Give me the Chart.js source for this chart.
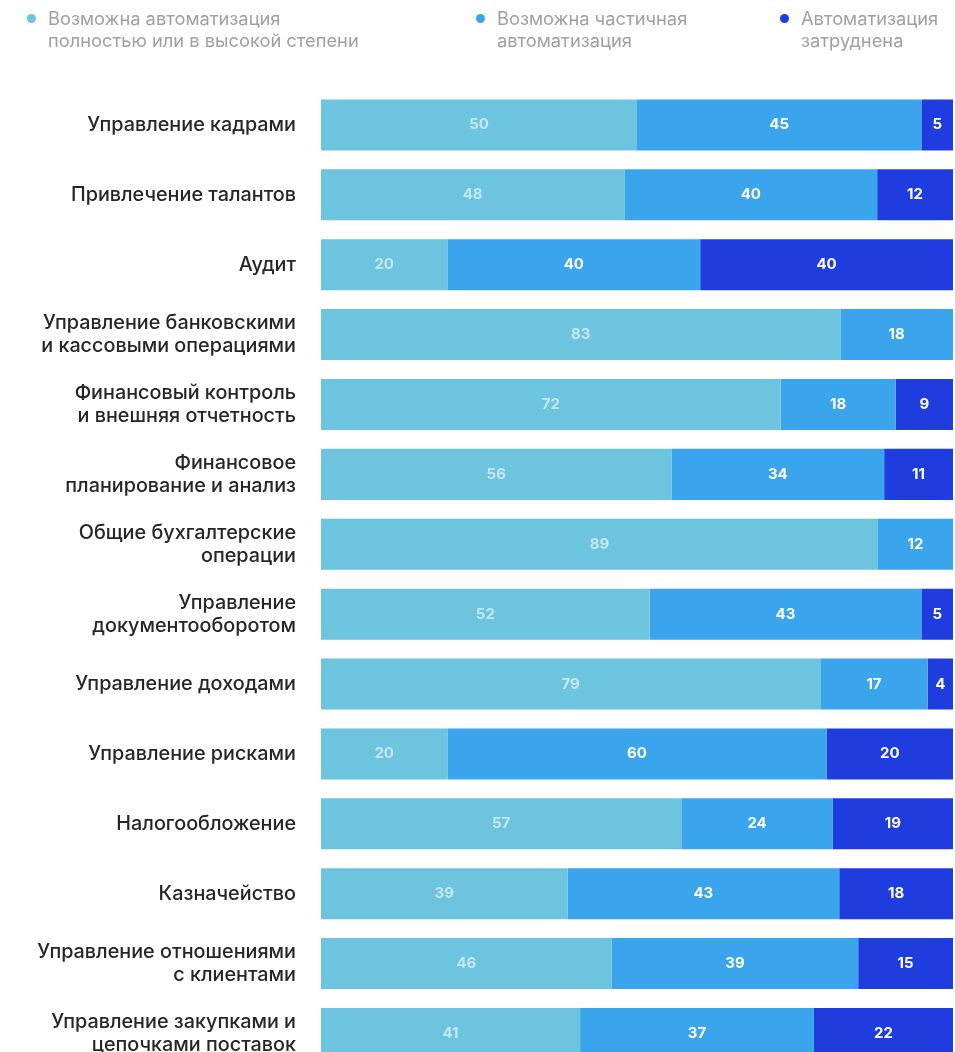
<!DOCTYPE html>
<html lang="ru">
<head>
    <meta charset="UTF-8">
    <title>Автоматизация функций</title>
    <script src="https://cdn.jsdelivr.net/npm/chart.js"></script>
    <style>
        body {
            margin: 0;
            background: #fff;
            font-family: 'Inter', sans-serif;
            overflow: hidden;
        }
        .wrap {
            position: relative;
            width: 955px;
            height: 1052px;
            overflow: hidden;
        }
        .legend {
            position: absolute;
            top: 0;
            left: 0;
            width: 955px;
            z-index: 2;
        }
        .legend-item {
            position: absolute;
            top: 7px;
            color: #a0a0a0;
            font-size: 18.3px;
            line-height: 22px;
            padding-left: 21px;
            white-space: nowrap;
        }
        .legend-item::before {
            content: "";
            position: absolute;
            left: 0;
            top: 7px;
            width: 9px;
            height: 9px;
            border-radius: 50%;
            background: var(--c);
        }
        #autoChart {
            position: absolute;
            top: 0;
            left: 0;
        }
    </style>
</head>
<body>
<div class="wrap">
    <div class="legend" id="legend"></div>
    <canvas id="autoChart" width="955" height="1105"></canvas>
</div>

<script>
    // данные
    const categories = [
        ["Управление кадрами"],
        ["Привлечение талантов"],
        ["Аудит"],
        ["Управление банковскими", "и кассовыми операциями"],
        ["Финансовый контроль", "и внешняя отчетность"],
        ["Финансовое", "планирование и анализ"],
        ["Общие бухгалтерские", "операции"],
        ["Управление", "документооборотом"],
        ["Управление доходами"],
        ["Управление рисками"],
        ["Налогообложение"],
        ["Казначейство"],
        ["Управление отношениями", "с клиентами"],
        ["Управление закупками и", "цепочками поставок"]
    ];
    const fullAuto = [50, 48, 20, 83, 72, 56, 89, 52, 79, 20, 57, 39, 46, 41];
    const partialAuto = [45, 40, 40, 18, 18, 34, 12, 43, 17, 60, 24, 43, 39, 37];
    const hardAuto = [5, 12, 40, 0, 9, 11, 0, 5, 4, 20, 19, 18, 15, 22];

    const seriesNames = [
        ["Возможна автоматизация", "полностью или в высокой степени"],
        ["Возможна частичная", "автоматизация"],
        ["Автоматизация", "затруднена"]
    ];
    const colors = ["#6cc4df", "#3aa4ec", "#1f3ddf"];
    const labelColors = ["rgba(255,255,255,0.6)", "#ffffff", "#ffffff"];
    const legendX = [27, 476, 780];

    // легенда
    const legendEl = document.getElementById('legend');
    seriesNames.forEach((name, i) => {
        const d = document.createElement('div');
        d.className = 'legend-item';
        d.style.left = legendX[i] + 'px';
        d.style.setProperty('--c', colors[i]);
        d.innerHTML = name.join('<br>');
        legendEl.appendChild(d);
    });

    // бары нормируются на сумму строки (как в оригинале), подписи - исходные значения
    const raw = [fullAuto, partialAuto, hardAuto];
    const sums = fullAuto.map((v, i) => v + partialAuto[i] + hardAuto[i]);

    const datasets = raw.map((arr, k) => ({
        label: seriesNames[k].join(' '),
        data: arr.map((v, i) => v / sums[i] * 100),
        rawValues: arr,
        backgroundColor: colors[k],
        borderWidth: 0,
        barPercentage: 1,
        categoryPercentage: 0.73
    }));

    const valueLabels = {
        id: 'valueLabels',
        afterDatasetsDraw(chart) {
            const ctx = chart.ctx;
            ctx.save();
            ctx.font = 'bold 15px Inter, sans-serif';
            ctx.textAlign = 'center';
            ctx.textBaseline = 'middle';
            chart.data.datasets.forEach((ds, k) => {
                chart.getDatasetMeta(k).data.forEach((bar, i) => {
                    const v = ds.rawValues[i];
                    if (!v) return;
                    const cx = (bar.x + bar.base) / 2;
                    ctx.fillStyle = labelColors[k];
                    ctx.fillText(v, cx, bar.y);
                });
            });
            ctx.restore();
        }
    };

    new Chart(document.getElementById('autoChart'), {
        type: 'bar',
        data: { labels: categories, datasets: datasets },
        options: {
            indexAxis: 'y',
            responsive: false,
            animation: false,
            devicePixelRatio: 1,
            layout: { padding: { top: 90, right: 2, bottom: 0, left: 0 } },
            plugins: {
                legend: { display: false },
                tooltip: { enabled: false }
            },
            scales: {
                x: {
                    stacked: true,
                    min: 0,
                    max: 100,
                    display: false
                },
                y: {
                    stacked: true,
                    grid: { display: false, drawTicks: false },
                    border: { display: false },
                    ticks: {
                        color: '#262626',
                        padding: 25,
                        font: { family: 'Inter', size: 19.8, weight: '500', lineHeight: 1.17 },
                        autoSkip: false
                    },
                    afterFit(scale) { scale.width = 321; }
                }
            }
        },
        plugins: [valueLabels]
    });
</script>
</body>
</html>
